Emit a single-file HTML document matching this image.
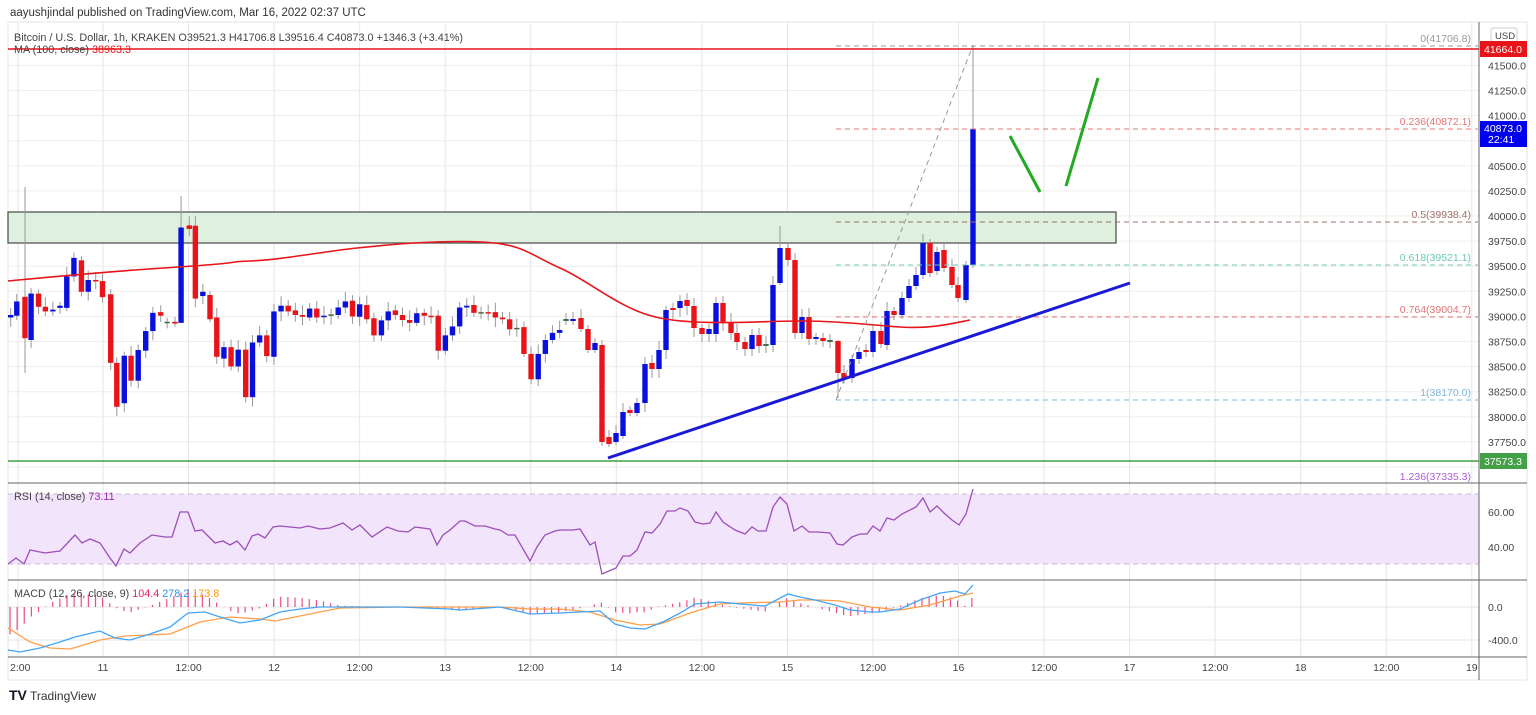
<!DOCTYPE html>
<html><head><meta charset="utf-8"><style>
body{margin:0;background:#fff;width:1536px;height:710px;overflow:hidden;font-family:"Liberation Sans",sans-serif}
svg text{font-family:"Liberation Sans",sans-serif}
</style></head><body>
<svg id="s" width="1536" height="710" xmlns="http://www.w3.org/2000/svg">
<rect x="0" y="0" width="1536" height="710" fill="#fff"/>
<text x="10" y="16" font-size="11.5" fill="#333">aayushjindal published on TradingView.com, Mar 16, 2022 02:37 UTC</text>
<rect x="8" y="22" width="1519" height="658" fill="none" stroke="#e6e6e6"/>
<g id="grid"></g>
<rect x="8" y="494" width="1471" height="70" fill="#f2e4fb"/>
<line x1="8" y1="494" x2="1479" y2="494" stroke="#c8bccf" stroke-dasharray="5,4"/>
<line x1="8" y1="564" x2="1479" y2="564" stroke="#c8bccf" stroke-dasharray="5,4"/>
<rect x="8" y="212" width="1108" height="31" fill="#dff0df" stroke="#555" stroke-width="1.3"/>
<g id="main"></g>
<line x1="8" y1="483" x2="1527" y2="483" stroke="#666"/>
<line x1="8" y1="580" x2="1527" y2="580" stroke="#666"/>
<line x1="8" y1="657" x2="1527" y2="657" stroke="#666"/>
<line x1="1479" y1="22" x2="1479" y2="680" stroke="#666"/>
<g id="labels" font-size="10.5" fill="#444"></g>
<text x="14" y="41" font-size="10.8" fill="#444">Bitcoin / U.S. Dollar, 1h, KRAKEN  O39521.3  H41706.8  L39516.4  C40873.0  +1346.3 (+3.41%)</text>
<text x="14" y="53" font-size="10.8" fill="#444">MA (100, close)  <tspan fill="#e8141a">38963.3</tspan></text>
<text x="14" y="500" font-size="10.8" fill="#444">RSI (14, close)  <tspan fill="#9c27b0">73.11</tspan></text>
<text x="14" y="597" font-size="10.8" fill="#444">MACD (12, 26, close, 9)  <tspan fill="#e91e63">104.4</tspan>  <tspan fill="#2196f3">278.2</tspan>  <tspan fill="#ff9800">173.8</tspan></text>
<rect x="1491" y="28" width="26" height="14" rx="2" fill="#fff" stroke="#ccc"/>
<text x="1495" y="39" font-size="9.5" fill="#444">USD</text>
<rect x="1480" y="41" width="47" height="16" fill="#e8141a"/>
<text x="1484" y="53" font-size="10.5" fill="#fff">41664.0</text>
<rect x="1480" y="121" width="47" height="26" fill="#0000ee"/>
<text x="1484" y="132" font-size="10.5" fill="#fff">40873.0</text>
<text x="1488" y="143" font-size="10.5" fill="#fff">22:41</text>
<rect x="1480" y="453" width="47" height="16" fill="#43a047"/>
<text x="1484" y="465" font-size="10.5" fill="#fff">37573.3</text>
<text x="9" y="700" font-size="14" font-weight="bold" fill="#131722">TV</text>
<text x="30" y="700" font-size="12" fill="#333">TradingView</text>
</svg>
<script>
const NS="http://www.w3.org/2000/svg";
function el(p,t,a){const e=document.createElementNS(NS,t);for(const k in a)e.setAttribute(k,a[k]);document.getElementById(p).appendChild(e);return e}
const priceY=p=>216+(40000-p)*0.1004;
for(let p=37500;p<=41500;p+=250){const y=priceY(p);el('grid','line',{x1:8,y1:y,x2:1479,y2:y,stroke:'#eee'});
 if(p!=40750&&p!=37500)el('labels','text',{x:1488,y:y+4}).textContent=p.toFixed(1);}
[[512,'60.00'],[547,'40.00'],[607,'0.0'],[640,'-400.0']].forEach(([y,t])=>{el('grid','line',{x1:8,y1:y,x2:1479,y2:y,stroke:'#e6e6e6'});el('labels','text',{x:1488,y:y+4}).textContent=t;});
const tl=['2:00','11','12:00','12','12:00','13','12:00','14','12:00','15','12:00','16','12:00','17','12:00','18','12:00','19'];
tl.forEach((t,i)=>{const x=i==0?18:103+(i-1)*85.55;el('grid','line',{x1:x,y1:22,x2:x,y2:657,stroke:'#e6e6e6'});
 el('labels','text',{x:i==0?10:x,y:671,'text-anchor':i==0?'start':'middle'}).textContent=t;});
const z4=[[30,378,385,'b'],[47,340,380,'b'],[70,327,443,'r'],[87,318,448,'b'],[108,318,355,'r'],[127,355,368,'r'],[148,363,368,'b'],[168,352,358,'b'],[187,270,358,'b'],[207,218,270,'b'],[228,225,313,'r'],[247,280,313,'b'],[268,280,283,'r'],[287,283,328,'r'],[310,320,512,'r'],[327,512,635,'r'],[348,492,625,'b'],[367,492,562,'r'],[387,476,562,'b'],[408,423,478,'b'],[428,372,423,'b'],[450,370,380,'r'],[468,397,399,'g'],[490,397,402,'r'],[507,133,400,'b'],[530,127,137,'r'],[547,128,332,'r'],[568,313,325,'b'],[588,322,390,'r'],[607,385,495,'r'],[627,468,500,'b'],[647,468,522,'r'],[667,475,522,'b'],[688,475,608,'r'],[707,455,608,'b'],[727,435,455,'b'],[747,435,493,'r'],[767,368,495,'b'],[787,352,368,'b'],[807,352,368,'r'],[827,365,378,'r'],[847,378,383,'r'],[867,360,385,'b'],[887,360,385,'r'],[907,380,384,'b'],[927,376,380,'g'],[947,357,378,'b'],[967,340,357,'b'],[987,338,382,'r'],[1007,348,383,'b'],[1027,350,390,'r'],[1047,387,435,'r'],[1068,393,435,'b'],[1087,368,393,'b'],[1107,365,378,'r'],[1127,378,392,'r'],[1147,392,400,'r'],[1167,373,400,'b'],[1188,372,380,'r'],[1207,380,383,'r'],[1227,380,478,'r'],[1247,435,478,'b'],[1267,410,435,'b'],[1287,357,410,'b'],[1307,352,357,'b'],[1327,350,372,'r'],[1347,370,373,'g'],[1367,370,372,'r'],[1387,370,385,'r'],[1407,385,390,'r'],[1427,390,418,'r'],[1447,414,416,'g'],[1467,412,487,'r'],[1487,487,558,'r'],[1507,487,558,'b'],[1527,448,487,'b'],[1547,428,448,'b'],[1567,420,428,'b']];
let C=z4.map(c=>[c[0]/2.8,180+c[1]/2.8,180+c[2]/2.8,c[3]]);
const real=[[566,319,321,'g'],[573,319,321,'b'],[581,318,329,'r'],[588,329,350,'r'],[595,343,350,'b'],[602,345,442,'r'],[609,437,444,'r'],[616,433,442,'b'],[623,412,436,'b'],[630,410,413,'r'],[637,403,413,'b'],[645,364,403,'b'],[652,363,369,'r'],[659,350,369,'b'],[666,310,350,'b'],[673,308,310,'r'],[680,301,308,'b'],[687,300,306,'r'],[694,306,328,'r'],[702,328,334,'r'],[709,329,334,'b'],[716,303,334,'b'],[723,303,323,'r'],[731,322,333,'r'],[737,333,342,'r'],[745,342,349,'r'],[752,335,349,'b'],[759,335,346,'r'],[766,344,346,'g'],[773,285,345,'b'],[780,248,283,'b'],[788,248,260,'r'],[795,260,333,'r'],[802,317,333,'b'],[809,317,339,'r'],[816,337,339,'b'],[823,338,341,'r'],[830,340,342,'g'],[838,341,373,'r'],[844,373,378,'r'],[852,359,378,'b'],[859,352,359,'b'],[866,350,352,'r'],[873,331,352,'b'],[881,331,344,'r'],[887,311,345,'b'],[894,311,315,'r'],[902,298,315,'b'],[909,286,298,'b'],[916,275,286,'b'],[923,243,275,'b'],[930,243,273,'r'],[937,252,271,'b'],[944,250,268,'r'],[952,267,285,'r'],[958,285,298,'r'],[966,265,300,'b'],[973,129,265,'b']];
C=C.concat(real);
const col={b:'#0a10dc',r:'#e8141a',g:'#4a6a4a'};
const wick={24:[187,373],181:[196,300],185:[195,240],973:[46,268],602:[340,446],780:[226,285],838:[340,398]};
C.forEach(c=>{const x=c[0];let top=c[1]-4-((x*7)%6),bot=c[2]+3+((x*13)%7);
 for(const k in wick){if(Math.abs(k-x)<2.5){top=wick[k][0];bot=wick[k][1];}}
 el('main','line',{x1:x,y1:top,x2:x,y2:bot,stroke:'#999','stroke-width':1});
 el('main','rect',{x:x-2.7,y:c[1],width:5.4,height:Math.max(1.5,c[2]-c[1]),fill:col[c[3]]});});
el('main','path',{d:'M8,281 C50,277 100,272 178,267 S220,262 250,261 S320,252 357,248 S440,240 482,242 S530,255 560,268 S620,310 660,318 S760,321 800,321 S870,325 900,327 S950,324 970,320',fill:'none',stroke:'#e8141a','stroke-width':1.6});
el('main','line',{x1:8,y1:49,x2:1479,y2:49,stroke:'#e8141a','stroke-width':1.6});
el('main','line',{x1:8,y1:461,x2:1479,y2:461,stroke:'#43a047','stroke-width':1.6});
const fib=[[46,'#999','0(41706.8)'],[129,'#e57373','0.236(40872.1)'],[222,'#a0706a','0.5(39938.4)'],[265,'#6cc9b5','0.618(39521.1)'],[317,'#e57373','0.764(39004.7)'],[400,'#7fb8d8','1(38170.0)']];
fib.forEach(f=>{el('main','line',{x1:836,y1:f[0],x2:1478,y2:f[0],stroke:f[1],'stroke-dasharray':'5,4'});
 const t=el('main','text',{x:1471,y:f[0]-4,'font-size':10.5,fill:f[1],'text-anchor':'end'});t.textContent=f[2];});
el('main','text',{x:1471,y:480,'font-size':10.5,fill:'#b05cd6','text-anchor':'end'}).textContent='1.236(37335.3)';
el('main','line',{x1:836,y1:400,x2:973,y2:45,stroke:'#999','stroke-dasharray':'5,4'});
el('main','line',{x1:608,y1:458,x2:1130,y2:283,stroke:'#1a1ad6','stroke-width':3});
el('main','line',{x1:1010,y1:136,x2:1040,y2:192,stroke:'#22aa22','stroke-width':3});
el('main','line',{x1:1066,y1:186,x2:1098,y2:78,stroke:'#22aa22','stroke-width':3});
const rsi=[[8,564],[16,558],[24,564],[30,550],[45,553],[60,551],[75,535],[82,543],[90,539],[100,543],[110,558],[116,566],[124,549],[130,553],[140,543],[152,535],[165,537],[172,537],[180,512],[188,512],[195,531],[202,530],[215,543],[223,541],[230,545],[237,541],[245,550],[252,536],[258,534],[265,538],[273,527],[280,526],[300,528],[308,526],[320,529],[330,528],[343,523],[352,530],[360,525],[372,537],[387,527],[398,531],[408,532],[415,527],[430,529],[437,545],[443,535],[450,530],[460,521],[465,521],[475,526],[485,526],[495,529],[500,530],[508,535],[515,535],[530,561],[537,547],[545,535],[555,531],[560,530],[573,530],[580,529],[590,545],[595,542],[602,574],[616,568],[623,556],[630,556],[637,550],[645,532],[652,533],[660,524],[667,511],[675,511],[680,508],[688,511],[695,522],[703,524],[710,523],[716,512],[723,522],[735,530],[745,534],[752,527],[758,531],[766,531],[773,507],[780,497],[787,504],[794,531],[802,526],[809,532],[818,532],[830,533],[837,544],[843,545],[852,537],[860,534],[867,534],[873,526],[880,531],[887,518],[894,520],[902,514],[916,507],[923,498],[930,512],[937,506],[944,513],[952,520],[959,525],[966,514],[973,489]];
el('main','polyline',{points:rsi.map(p=>p.join(',')).join(' '),fill:'none',stroke:'#9c4fb8','stroke-width':1.3});
const bl=[[8,650],[20,652],[40,648],[60,642],[75,637],[100,631],[115,638],[130,640],[150,634],[170,627],[188,613],[205,612],[220,617],[240,623],[260,620],[280,612],[300,609],[320,607],[350,607],[400,607],[450,609],[460,610],[500,607],[530,614],[560,613],[600,611],[615,624],[630,628],[645,629],[665,621],[680,613],[695,604],[720,602],[740,604],[765,606],[788,594],[800,597],[815,600],[835,605],[850,610],[870,612],[880,612],[900,609],[920,600],[940,593],[955,591],[965,594],[973,585]];
const or=[[8,628],[30,642],[50,648],[70,649],[100,640],[125,636],[170,634],[200,622],[230,617],[260,619],[275,621],[300,616],[340,608],[400,607],[500,607],[530,609],[560,609],[590,612],[615,620],[640,625],[660,624],[690,613],[720,604],[740,603],[780,602],[800,600],[820,600],[840,601],[870,607],[900,610],[930,605],[960,596],[973,593]];
function interp(a,x){for(let i=1;i<a.length;i++){if(x<=a[i][0]){const t=(x-a[i-1][0])/(a[i][0]-a[i-1][0]);return a[i-1][1]+t*(a[i][1]-a[i-1][1]);}}return a[a.length-1][1];}
for(let x=10;x<=973;x+=7.125){const h=(interp(or,x)-interp(bl,x))*1.3;
 el('main','line',{x1:x,y1:607,x2:x,y2:607-h,stroke:'#e91e63','stroke-width':1.2,opacity:.8});}
el('main','polyline',{points:or.map(p=>p.join(',')).join(' '),fill:'none',stroke:'#ff9e4a','stroke-width':1.3});
el('main','polyline',{points:bl.map(p=>p.join(',')).join(' '),fill:'none',stroke:'#42a5f5','stroke-width':1.3});
</script>
</body></html>
